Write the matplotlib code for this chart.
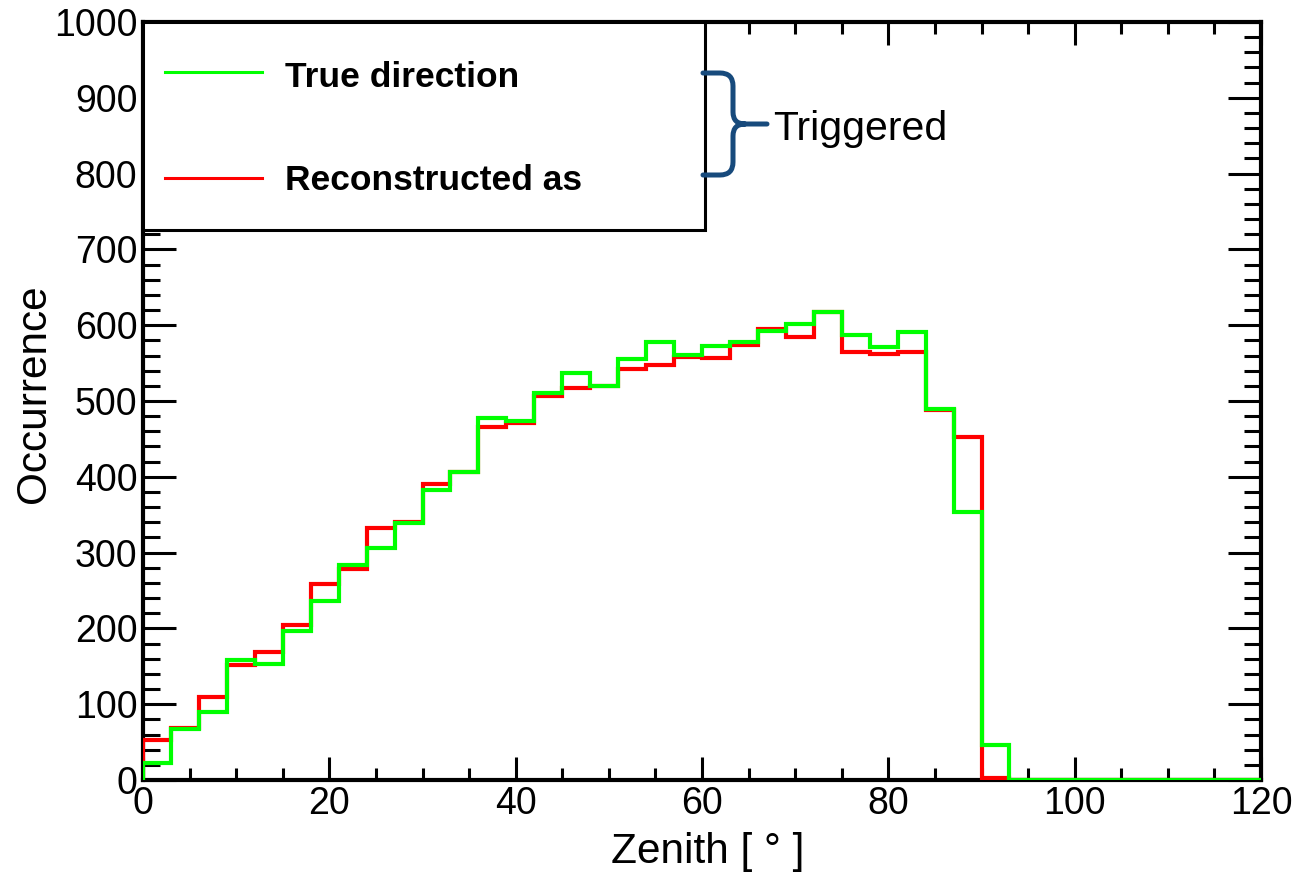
from matplotlib import pyplot as plt
from matplotlib.patches import Rectangle, PathPatch
from matplotlib.path import Path
from matplotlib.lines import Line2D
from matplotlib.ticker import MultipleLocator
import numpy as np

plt.rcParams['font.family'] = ['Liberation Sans', 'DejaVu Sans']

# zenith bins, 3 degrees wide, 0 - 120
bin_edges = np.arange(0, 121, 3)

true_direction = [22, 67, 90, 158, 153, 196, 236, 283, 306, 339,
                  383, 406, 477, 473, 510, 537, 520, 555, 578, 561,
                  573, 578, 593, 601, 617, 587, 571, 591, 490, 354,
                  46, 0, 0, 0, 0, 0, 0, 0, 0, 0]
reconstructed = [53, 69, 110, 152, 169, 205, 258, 278, 333, 340,
                 391, 406, 466, 471, 506, 517, 520, 542, 547, 558,
                 557, 574, 595, 585, 617, 564, 562, 564, 488, 453,
                 2, 0, 0, 0, 0, 0, 0, 0, 0, 0]

labels = ['True direction', 'Reconstructed as']
colors = ['#00ff00', '#ff0000']

W, H = 1295, 873


def fig_xy(x, y):
    # pixel position (y from top) -> figure fraction
    return x / W, 1 - y / H


fig = plt.figure(figsize=(W / 100, H / 100), dpi=100)
ax = fig.add_axes([143 / W, 1 - 780 / H, 1118 / W, 758 / H])

# Histograms
ax.stairs(reconstructed, bin_edges, color=colors[1], linewidth=3, zorder=3)
ax.stairs(true_direction, bin_edges, color=colors[0], linewidth=3, zorder=3.1)

ax.set_xlim(0, 120)
ax.set_ylim(0, 1000)

# ROOT style axes
for s in ['top', 'bottom', 'left', 'right']:
    ax.spines[s].set_linewidth(3)
ax.xaxis.set_major_locator(MultipleLocator(20))
ax.xaxis.set_minor_locator(MultipleLocator(5))
ax.yaxis.set_major_locator(MultipleLocator(100))
ax.yaxis.set_minor_locator(MultipleLocator(20))
ax.tick_params(axis='both', which='both', direction='in', top=True, right=True,
               width=2.2, labelsize=27)
ax.tick_params(axis='x', which='major', length=16.5, pad=4)
ax.tick_params(axis='x', which='minor', length=8.6)
ax.tick_params(axis='y', which='major', length=23.8, pad=4)
ax.tick_params(axis='y', which='minor', length=12.2)

ax.set_xlabel('Zenith [ ° ]', fontsize=30.5)
ax.set_ylabel('Occurrence', fontsize=30.5)
ax.xaxis.set_label_coords(0.505, -0.068)
ax.yaxis.set_label_coords(-0.08, 0.509)

# Legend box drawn over the upper left corner
x0, y0 = fig_xy(143, 230)
x1, y1 = fig_xy(705, 22)
ax.add_artist(Rectangle((x0, y0), x1 - x0, y1 - y0, transform=fig.transFigure,
                        facecolor='white', edgecolor='black', linewidth=2.2,
                        clip_on=False, zorder=5))
for lab, col, ly, ty in zip(labels, colors, [72, 178], [87, 190]):
    lx0, lyf = fig_xy(165, ly)
    lx1, _ = fig_xy(262, ly)
    ax.add_artist(Line2D([lx0, lx1], [lyf, lyf], transform=fig.transFigure,
                         color=col, linewidth=2.2, clip_on=False, zorder=6))
    tx, tyf = fig_xy(285, ty)
    fig.text(tx, tyf, lab, fontsize=25.5, fontweight='bold', va='baseline',
             ha='left', zorder=7)

# Brace with "Triggered"
pts = [(703, 73), (720, 73), (733, 73), (733, 86), (733, 112),
       (733, 124), (745, 124), (733, 124), (733, 136), (733, 162),
       (733, 175), (720, 175), (703, 175), (745, 124), (767, 124)]
codes = [Path.MOVETO, Path.LINETO, Path.CURVE3, Path.CURVE3, Path.LINETO,
         Path.CURVE3, Path.CURVE3, Path.CURVE3, Path.CURVE3, Path.LINETO,
         Path.CURVE3, Path.CURVE3, Path.LINETO, Path.MOVETO, Path.LINETO]
brace = Path([fig_xy(x, y) for x, y in pts], codes)
fig.add_artist(PathPatch(brace, transform=fig.transFigure, fill=False,
                         edgecolor='#174a7c', linewidth=3.6,
                         capstyle='round', joinstyle='round'))
tx, ty = fig_xy(773, 140)
fig.text(tx, ty, 'Triggered', fontsize=29.5, va='baseline', ha='left')

fig.savefig('out.png', dpi=100)
